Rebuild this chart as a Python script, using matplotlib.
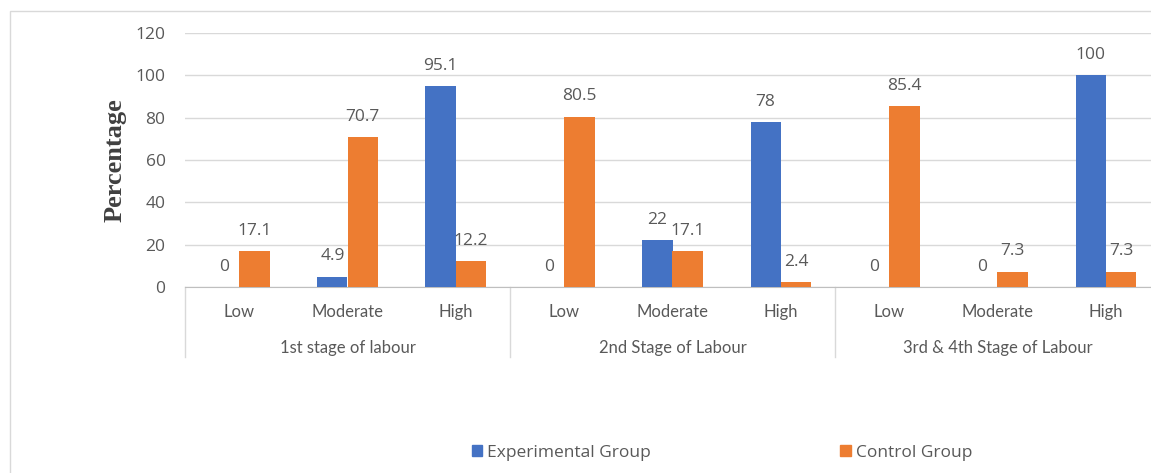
import matplotlib.pyplot as plt
from matplotlib.patches import Rectangle, Patch
import numpy as np

plt.rcParams['font.family'] = ['Open Sans', 'DejaVu Sans']

stages = ['1st stage of labour', '2nd Stage of Labour', '3rd & 4th Stage of Labour']
levels = ['Low', 'Moderate', 'High']
experimental = [0, 4.9, 95.1, 0, 22, 78, 0, 0, 100]
control = [17.1, 70.7, 12.2, 80.5, 17.1, 2.4, 85.4, 7.3, 7.3]
yticks = [0, 20, 40, 60, 80, 100, 120]

blue = '#4472C4'
orange = '#ED7D31'
grey_txt = '#595959'

W, H = 1151, 473
fig = plt.figure(figsize=(W / 100, H / 100), dpi=100)

# plot area runs slightly past the right edge of the figure
ax = fig.add_axes([185 / W, 186 / H, 975 / W, 254 / H])

n = len(experimental)
x = np.arange(n)
bw = 0.28
b1 = ax.bar(x - bw / 2, experimental, bw, color=blue, zorder=3)
b2 = ax.bar(x + bw / 2, control, bw, color=orange, zorder=3)

for bars, vals in ((b1, experimental), (b2, control)):
    for bar, v in zip(bars, vals):
        ax.annotate(f'{v:g}', (bar.get_x() + bar.get_width() / 2, v),
                    xytext=(0, 14.5), textcoords='offset points',
                    ha='center', va='center', fontsize=12.5, color=grey_txt)

ax.set_xlim(-0.5, n - 0.5)
ax.set_ylim(0, 120)
ax.set_yticks(yticks)
ax.yaxis.grid(True, color='#d9d9d9', lw=1, zorder=0)
ax.tick_params(axis='y', length=0, pad=14, labelsize=12.5, labelcolor=grey_txt)
ax.set_xticks([])
for s in ('top', 'right', 'left'):
    ax.spines[s].set_visible(False)
ax.spines['bottom'].set_color('#bfbfbf')

# two-level category axis
tr = ax.get_xaxis_transform()
for i in range(n):
    ax.text(i, -0.098, levels[i % 3], transform=tr, ha='center', va='center',
            fontsize=12, family='Lato', color=grey_txt)
for g, name in enumerate(stages):
    ax.text(g * 3 + 1, -0.24, name, transform=tr, ha='center', va='center',
            fontsize=12, family='Lato', color=grey_txt)
for sep in (-0.5, 2.5, 5.5):
    ax.plot([sep, sep], [0, -0.276], transform=tr, color='#d9d9d9', lw=1,
            clip_on=False)

fig.text(115 / W, 1 - 160 / H, 'Percentage', rotation=90, ha='center',
         va='center', fontsize=19, fontweight='bold', family='Liberation Serif',
         color='#404040')

handles = [Patch(color=blue, label='Experimental Group'),
           Patch(color=orange, label='Control Group')]
fig.legend(handles=handles, loc='center', bbox_to_anchor=(722 / W, 1 - 453 / H),
           ncol=2, frameon=False, fontsize=12.5, handlelength=0.6,
           handleheight=0.6, handletextpad=0.3, columnspacing=10.9,
           labelcolor=grey_txt)

# chart border
fig.add_artist(Rectangle((10 / W, -0.1), 1.2, 1.1 - 11 / H, transform=fig.transFigure,
                         fill=False, ec='#d9d9d9', lw=1))

fig.savefig('out.png', dpi=100)
